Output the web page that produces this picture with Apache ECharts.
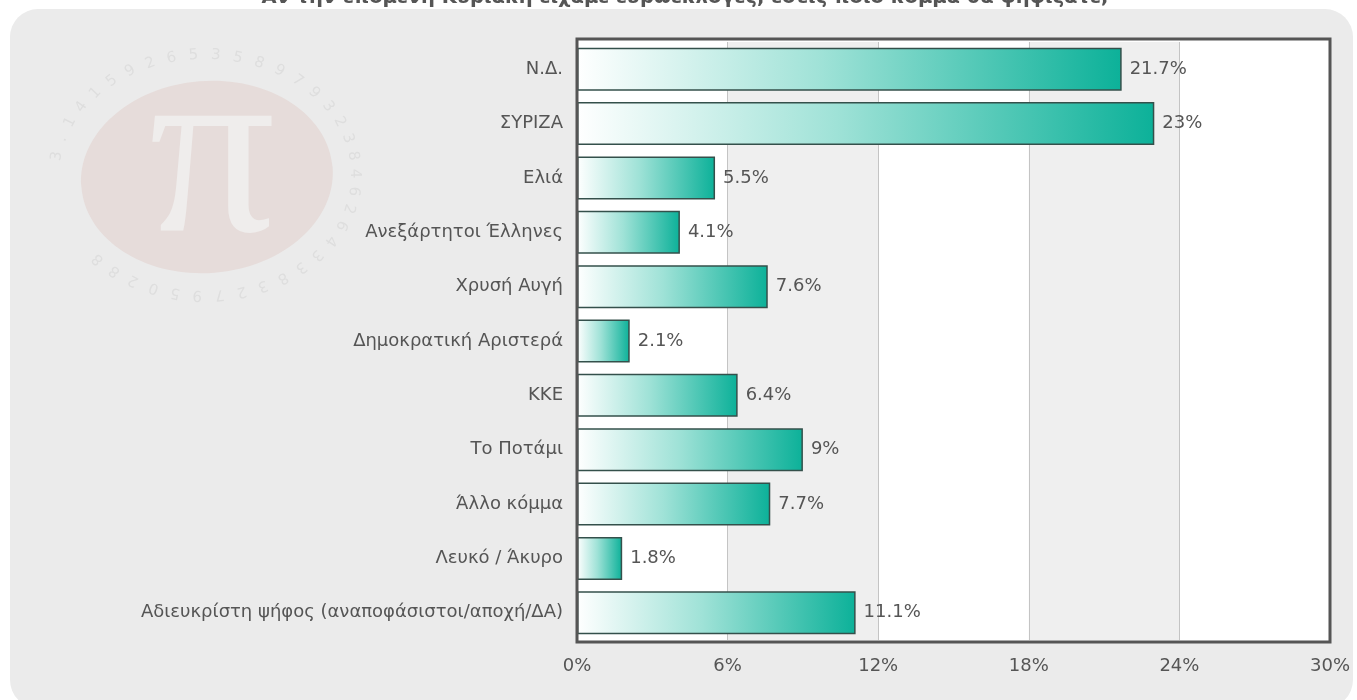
<!DOCTYPE html>
<html><head><meta charset="utf-8">
<script src="https://cdn.jsdelivr.net/npm/echarts@6/dist/echarts.min.js"></script>
<style>html,body{margin:0;padding:0;background:#fff}#c{width:1357px;height:700px}</style>
</head><body><div id="c"></div>
<script>
const titleText = 'Αν την επόμενη Κυριακή είχαμε ευρωεκλογές, εσείς ποιο κόμμα θα ψηφίζατε;';
const categories = ['Ν.Δ.', 'ΣΥΡΙΖΑ', 'Ελιά', 'Ανεξάρτητοι Έλληνες', 'Χρυσή Αυγή', 'Δημοκρατική Αριστερά', 'ΚΚΕ', 'Το Ποτάμι', 'Άλλο κόμμα', 'Λευκό / Άκυρο', 'Αδιευκρίστη ψήφος (αναποφάσιστοι/αποχή/ΔΑ)'];
const values = [21.7, 23, 5.5, 4.1, 7.6, 2.1, 6.4, 9, 7.7, 1.8, 11.1];
const xTicks = [0, 6, 12, 18, 24, 30];
const watermarkDigits = '3.14159265358979323846264338327950288';

const chart = echarts.init(document.getElementById('c'));
const font = 'DejaVu Sans, Verdana, sans-serif';

// decorative watermark ring of digits
const ring = [];
const cx = 205, cy = 175, rx = 150, ry = 120;
const n = watermarkDigits.length;
for (let i = 0; i < n; i++) {
  const a = -Math.PI * 0.95 + (i / n) * Math.PI * 1.75;
  const x = cx + rx * Math.cos(a), y = cy + ry * Math.sin(a);
  ring.push({ type: 'text', z: -14, x: x, y: y, rotation: -(a + Math.PI / 2),
    style: { text: watermarkDigits[i], fontSize: 15, fontFamily: font, fill: '#dedede', align: 'center', verticalAlign: 'middle' } });
}

chart.setOption({
  animation: false,
  graphic: [
    { type: 'text', z: -30, x: 685, y: 8,
      style: { text: titleText, fontSize: 19.5, fontWeight: 'bold', fontFamily: font, fill: '#555', align: 'center', verticalAlign: 'bottom' } },
    { type: 'rect', z: -20, shape: { x: 10, y: 9, width: 1343, height: 699, r: 28 },
      style: { fill: '#ebebeb' } },
    { type: 'ellipse', z: -15, x: 207, y: 177, rotation: 0.08, shape: { cx: 0, cy: 0, rx: 126, ry: 96 },
      style: { fill: '#e6dcda' } },
    { type: 'text', z: -14, x: 212, y: 165,
      style: { text: 'π', fontSize: 250, fontFamily: 'Liberation Serif, serif', fill: '#efedec', align: 'center', verticalAlign: 'middle' } },
    { type: 'rect', z: -12, shape: { x: 577, y: 39, width: 753, height: 603 },
      style: { fill: '#ffffff' } },
    { type: 'rect', z: 10, shape: { x: 577, y: 39, width: 753, height: 603 },
      style: { fill: 'none', stroke: '#555', lineWidth: 3 } }
  ].concat(ring),
  grid: { left: 577, right: 27, top: 42, bottom: 60, containLabel: false },
  xAxis: {
    type: 'value', min: 0, max: 30, interval: 6,
    axisLine: { show: false }, axisTick: { show: false },
    axisLabel: { color: '#555', fontFamily: font, fontSize: 18, margin: 17,
      formatter: v => xTicks.includes(v) ? v + '%' : '' },
    splitLine: { show: true, lineStyle: { color: '#c4c4c4', width: 1 } },
    splitArea: { show: true, areaStyle: { color: ['#ffffff', '#efefef'] } }
  },
  yAxis: {
    type: 'category', data: categories, inverse: true,
    axisLine: { show: false }, axisTick: { show: false },
    axisLabel: { color: '#555', fontFamily: font, fontSize: 18, margin: 14 }
  },
  series: [{
    type: 'bar', data: values, barWidth: 43,
    itemStyle: {
      borderColor: '#34504b', borderWidth: 1.5,
      color: new echarts.graphic.LinearGradient(0, 0, 1, 0, [
        { offset: 0, color: '#ffffff' },
        { offset: 0.45, color: '#9fe2d7' },
        { offset: 1, color: '#0cb199' }
      ])
    },
    label: { show: true, position: 'right', distance: 8, color: '#555', fontFamily: font, fontSize: 18,
      formatter: p => p.value + '%' }
  }]
});
</script></body></html>
